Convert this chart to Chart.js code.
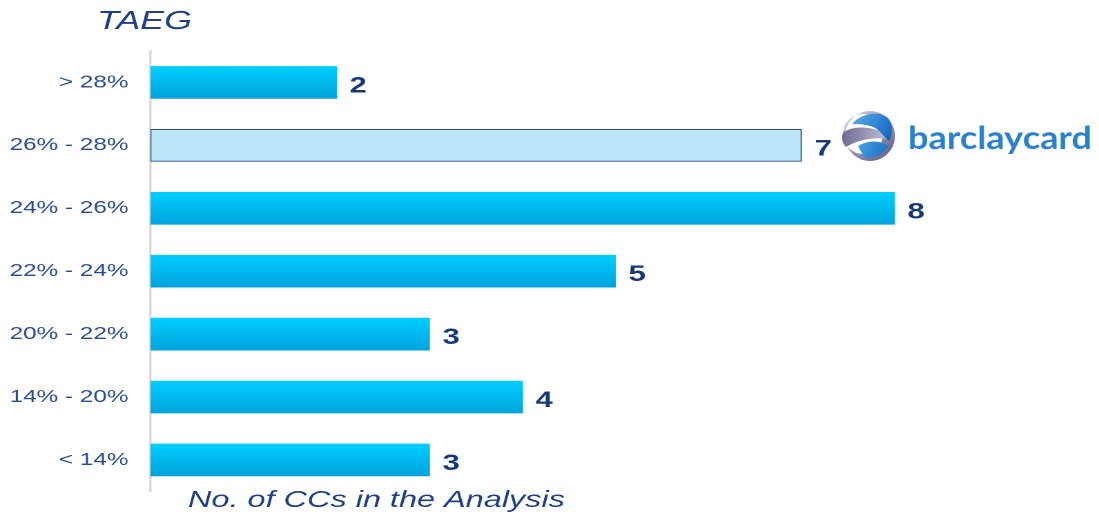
<!DOCTYPE html>
<html>
<head>
<meta charset="utf-8">
<script src="https://cdn.jsdelivr.net/npm/chart.js@4.4.1/dist/chart.umd.min.js"></script>
<style>
  html, body { margin: 0; padding: 0; background: #fff; overflow: hidden; }
  #wrap { width: 1099px; height: 518px; overflow: hidden; }
  canvas { display: block; transform-origin: 0 0; }
</style>
</head>
<body>
<div id="wrap"><canvas id="c" width="796" height="518" style="width:796px;height:518px"></canvas></div>
<script>
// APR bands, top to bottom, and how many credit cards fall in each
const categories = ['> 28%', '26% - 28%', '24% - 26%', '22% - 24%', '20% - 22%', '14% - 20%', '< 14%'];
const cardCounts = [2, 7, 8, 5, 3, 4, 3];
const highlightIndex = 1;            // band that holds the brand's own card
const bandTitle = 'TAEG';
const countTitle = 'No. of CCs in the Analysis';
const brandName = 'barclaycard';
const countMax = 10;

// The slide artwork is drawn on a narrower canvas and widened on screen,
// which gives every glyph the same broad proportions.
const W = 796, H = 518, STRETCH = 1099 / W;
const canvas = document.getElementById('c');
canvas.style.transform = 'scaleX(' + STRETCH + ')';

const NAVY = '#17397a';
const LABEL_BLUE = '#2a4c90';
const FONT = '"Liberation Sans", Arial, sans-serif';

function barFill(ctx) {
  if (ctx.dataIndex === highlightIndex) return '#bde5f8';
  const chart = ctx.chart;
  if (!chart.chartArea || !chart.scales.y) return '#00bbf0';
  const yc = chart.scales.y.getPixelForValue(ctx.dataIndex);
  const g = chart.ctx.createLinearGradient(0, yc - 16, 0, yc + 16);
  g.addColorStop(0, '#00cfff');
  g.addColorStop(1, '#00a3dd');
  return g;
}

function drawLogo(ctx) {
  // works in screen-proportioned units
  ctx.save();
  ctx.scale(1 / STRETCH, 1);
  const cx = 870, cy = 136;

  // grey ring
  const ring = ctx.createLinearGradient(cx - 20, cy - 25, cx + 22, cy + 25);
  ring.addColorStop(0, '#d4d2e4');
  ring.addColorStop(0.55, '#8f8db0');
  ring.addColorStop(1, '#5d5b82');
  ctx.beginPath();
  ctx.arc(cx, cy, 25, 0, Math.PI * 2);
  ctx.arc(cx - 7, cy - 2, 20, 0, Math.PI * 2, true);
  ctx.fillStyle = ring;
  ctx.fill();

  // grey body sweeping in from the left
  const body = ctx.createLinearGradient(cx - 28, 0, cx + 14, 0);
  body.addColorStop(0, '#6e6c92');
  body.addColorStop(1, '#b9b7cf');
  ctx.beginPath();
  ctx.moveTo(cx - 27, cy - 3);
  ctx.bezierCurveTo(cx - 20, cy - 10, cx - 2, cy - 10, cx + 10, cy - 5);
  ctx.lineTo(cx + 16, cy + 3);
  ctx.bezierCurveTo(cx + 2, cy + 1, cx - 12, cy + 4, cx - 24, cy + 11);
  ctx.bezierCurveTo(cx - 28, cy + 7, cx - 29, cy + 1, cx - 27, cy - 3);
  ctx.closePath();
  ctx.fillStyle = body;
  ctx.fill();

  // blue upper wing
  const wing = ctx.createLinearGradient(cx - 18, cy - 24, cx + 20, cy);
  wing.addColorStop(0, '#5fb2ec');
  wing.addColorStop(1, '#1467bf');
  ctx.beginPath();
  ctx.moveTo(cx - 18, cy - 12);
  ctx.bezierCurveTo(cx - 10, cy - 22, cx + 8, cy - 26, cx + 18, cy - 18);
  ctx.bezierCurveTo(cx + 23, cy - 12, cx + 23, cy - 2, cx + 19, cy + 5);
  ctx.lineTo(cx + 10, cy - 4);
  ctx.bezierCurveTo(cx + 6, cy - 9, cx - 2, cy - 12, cx - 18, cy - 12);
  ctx.closePath();
  ctx.fillStyle = wing;
  ctx.fill();

  // blue lower feathers
  const low = ctx.createLinearGradient(cx - 12, cy + 4, cx + 18, cy + 22);
  low.addColorStop(0, '#4aa3e6');
  low.addColorStop(1, '#1a6cc2');
  ctx.beginPath();
  ctx.moveTo(cx - 12, cy + 10);
  ctx.bezierCurveTo(cx - 2, cy + 4, cx + 10, cy + 4, cx + 18, cy + 10);
  ctx.bezierCurveTo(cx + 14, cy + 17, cx + 6, cy + 22, cx - 4, cy + 22);
  ctx.bezierCurveTo(cx - 8, cy + 18, cx - 10, cy + 14, cx - 12, cy + 10);
  ctx.closePath();
  ctx.fillStyle = low;
  ctx.fill();

  // word mark
  ctx.font = '700 32px Lato, "Noto Sans", sans-serif';
  const w = ctx.measureText(brandName).width;
  const left = 908, right = 1092, base = 149;
  const txt = ctx.createLinearGradient(0, base - 25, 0, base + 8);
  txt.addColorStop(0, '#2a82cc');
  txt.addColorStop(1, '#0c56a0');
  ctx.translate(left, base);
  ctx.scale((right - left) / w, 1);
  ctx.fillStyle = txt;
  ctx.textAlign = 'left';
  ctx.textBaseline = 'alphabetic';
  ctx.fillText(brandName, 0, 0);
  ctx.restore();
}

const slideDecor = {
  id: 'slideDecor',
  afterDatasetsDraw(chart) {
    const ctx = chart.ctx;
    const meta = chart.getDatasetMeta(0);

    // value next to each bar
    ctx.save();
    ctx.font = 'bold 22.5px ' + FONT;
    ctx.fillStyle = NAVY;
    ctx.textAlign = 'left';
    ctx.textBaseline = 'alphabetic';
    meta.data.forEach((bar, i) => {
      ctx.fillText(String(cardCounts[i]), bar.x + 13 / STRETCH, bar.y + 10);
    });

    // axis titles
    ctx.fillStyle = '#1f3f86';
    ctx.font = 'italic 26px ' + FONT;
    ctx.fillText(bandTitle, 97 / STRETCH, 29);
    ctx.font = 'italic 23.5px ' + FONT;
    ctx.fillText(countTitle, 188 / STRETCH, 507);
    ctx.restore();

    drawLogo(ctx);
  }
};

new Chart(canvas, {
  type: 'bar',
  data: {
    labels: categories,
    datasets: [{
      data: cardCounts,
      backgroundColor: barFill,
      borderColor: (c) => c.dataIndex === highlightIndex ? '#1f4f8f' : 'rgba(0,0,0,0)',
      borderWidth: (c) => c.dataIndex === highlightIndex ? 1 : 0,
      borderSkipped: false,
      barThickness: 32
    }]
  },
  options: {
    indexAxis: 'y',
    responsive: false,
    animation: false,
    devicePixelRatio: 2,
    layout: {
      padding: { left: 0, top: 51, right: (1099 - 1080.5) / STRETCH, bottom: 22.5 }
    },
    plugins: {
      legend: { display: false },
      tooltip: { enabled: false },
      title: { display: false }
    },
    scales: {
      x: {
        display: false,
        min: 0,
        max: countMax
      },
      y: {
        afterFit(scale) { scale.width = 150.5 / STRETCH; },
        grid: { display: false, drawTicks: false },
        border: { display: true, color: '#dcdcdc', width: 1.8 },
        ticks: {
          padding: 16,
          color: LABEL_BLUE,
          font: { family: FONT, size: 17.6 }
        }
      }
    }
  },
  plugins: [slideDecor]
});
</script>
</body>
</html>
